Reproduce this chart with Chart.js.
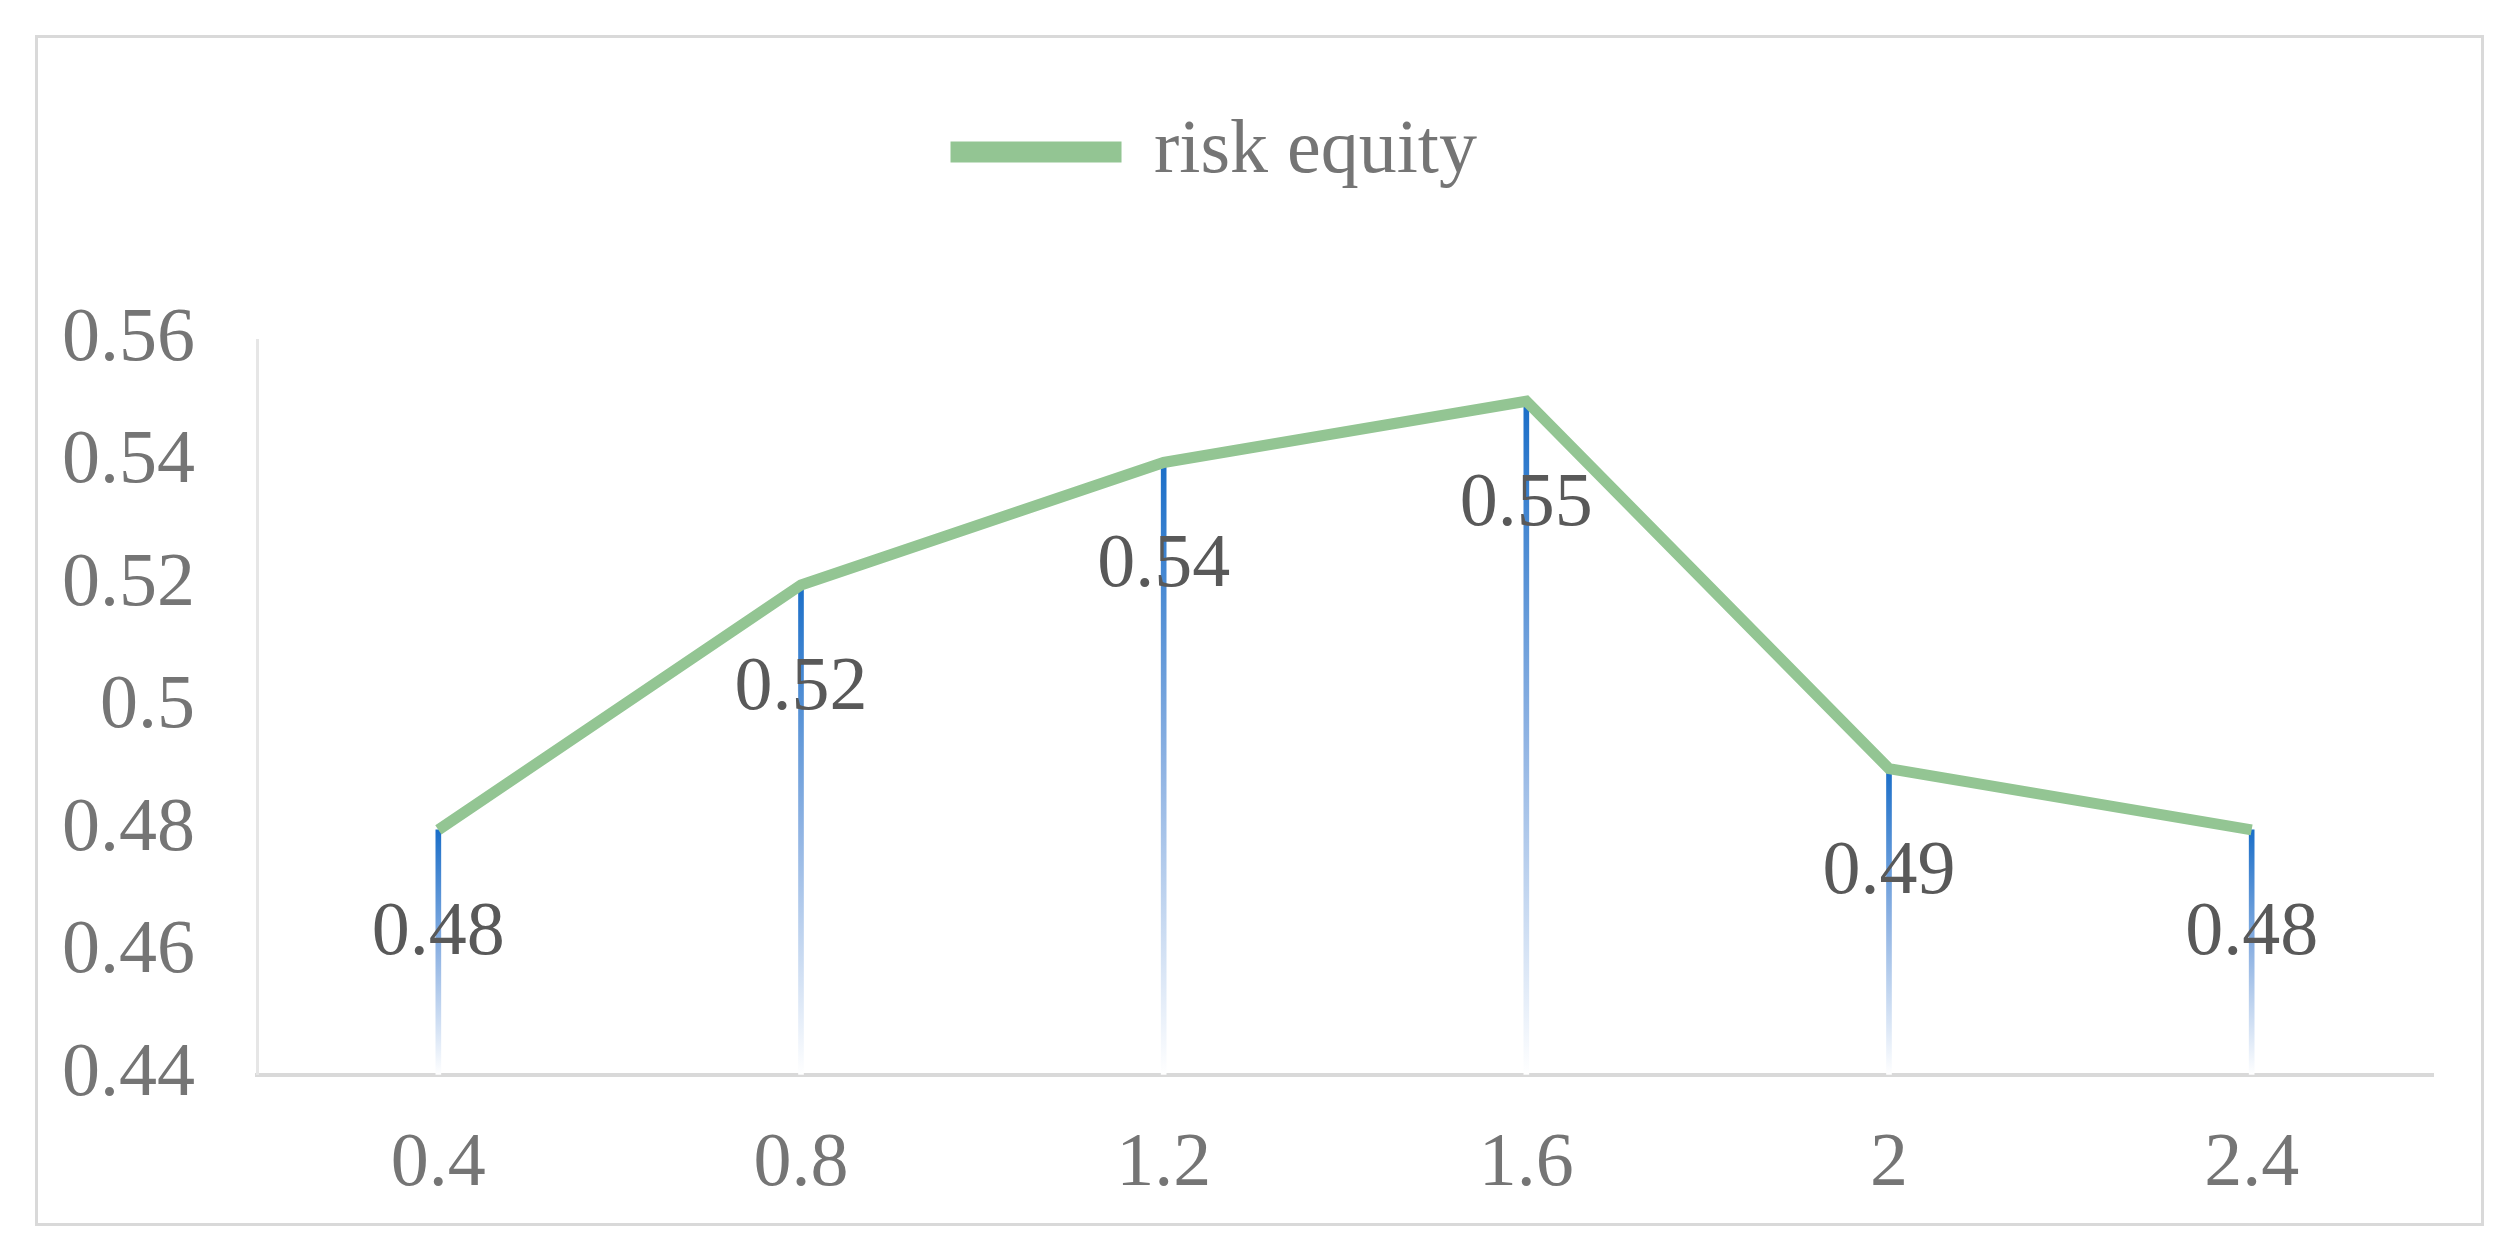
<!DOCTYPE html>
<html>
<head>
<meta charset="utf-8">
<script src="https://cdn.jsdelivr.net/npm/chart.js@4/dist/chart.umd.min.js"></script>
<style>
  html, body { margin: 0; padding: 0; background: #fff; }
  #frame { position: absolute; left: 35px; top: 35px; width: 2443px; height: 1185px; border: 3px solid #d9d9d9; }
  #wrap { position: absolute; left: 0; top: 0; width: 2516px; height: 1256px; }
</style>
</head>
<body>
<div id="frame"></div>
<div id="wrap"><canvas id="myChart" width="2516" height="1256"></canvas></div>
<script>
const categories = ["0.4", "0.8", "1.2", "1.6", "2", "2.4"];
const riskEquity = [0.48, 0.52, 0.54, 0.55, 0.49, 0.48];
const yTicks = [0.44, 0.46, 0.48, 0.5, 0.52, 0.54, 0.56];

const serif = "'Liberation Serif', 'Times New Roman', serif";

// 범례와 그래프 사이 간격
const legendGap = {
  id: "legendGap",
  beforeInit(chart) {
    const fit = chart.legend.fit;
    chart.legend.fit = function () {
      fit.bind(chart.legend)();
      this.height += 140;
    };
  },
};

// 점 아래 값 표시
const valueLabels = {
  id: "valueLabels",
  afterDatasetsDraw(chart) {
    const c = chart.ctx;
    const meta = chart.getDatasetMeta(1);
    c.save();
    c.font = "76px " + serif;
    c.fillStyle = "#595959";
    c.textAlign = "center";
    c.textBaseline = "middle";
    meta.data.forEach((pt, i) => {
      c.fillText(String(riskEquity[i]), pt.x, pt.y + 104);
    });
    c.restore();
  },
};

const ctx = document.querySelector("#myChart");

new Chart(ctx, {
  data: {
    labels: categories,
    datasets: [
      {
        type: "bar",
        label: "drop",
        data: riskEquity,
        barThickness: 5,
        order: 1,
        backgroundColor(c) {
          const chart = c.chart;
          const area = chart.chartArea;
          if (!area || c.raw === undefined) return "#1f6fc5";
          const top = chart.scales.y.getPixelForValue(c.raw);
          const g = chart.ctx.createLinearGradient(0, top, 0, area.bottom);
          g.addColorStop(0, "#1a6ec8");
          g.addColorStop(0.5, "#8fb3e3");
          g.addColorStop(1, "#ffffff");
          return g;
        },
      },
      {
        type: "line",
        label: "risk equity",
        data: riskEquity,
        borderColor: "#93c593",
        backgroundColor: "#93c593",
        borderWidth: 11,
        pointRadius: 0,
        tension: 0,
        order: 0,
      },
    ],
  },
  options: {
    responsive: false,
    animation: { duration: 0 },
    layout: { padding: { top: 104, left: 0, right: 83, bottom: 0 } },
    plugins: {
      tooltip: { enabled: false },
      legend: {
        position: "top",
        labels: {
          filter: (item) => item.text === "risk equity",
          boxWidth: 160,
          boxHeight: 10,
          padding: 10,
          color: "#757575",
          font: { family: serif, size: 76 },
        },
      },
    },
    scales: {
      x: {
        offset: true,
        grid: { display: false, drawTicks: false },
        border: { color: "#d9d9d9", width: 4 },
        ticks: { color: "#757575", font: { family: serif, size: 76 }, padding: 45 },
      },
      y: {
        min: 0.44,
        max: 0.56,
        afterBuildTicks(axis) {
          axis.ticks = yTicks.map((v) => ({ value: v }));
        },
        grid: { display: false, drawTicks: false },
        border: { color: "#e6e6e6", width: 3 },
        ticks: {
          color: "#757575",
          font: { family: serif, size: 76 },
          padding: 62,
          callback: (v) => String(+v.toFixed(2)),
        },
      },
    },
  },
  plugins: [legendGap, valueLabels],
});
</script>
</body>
</html>
